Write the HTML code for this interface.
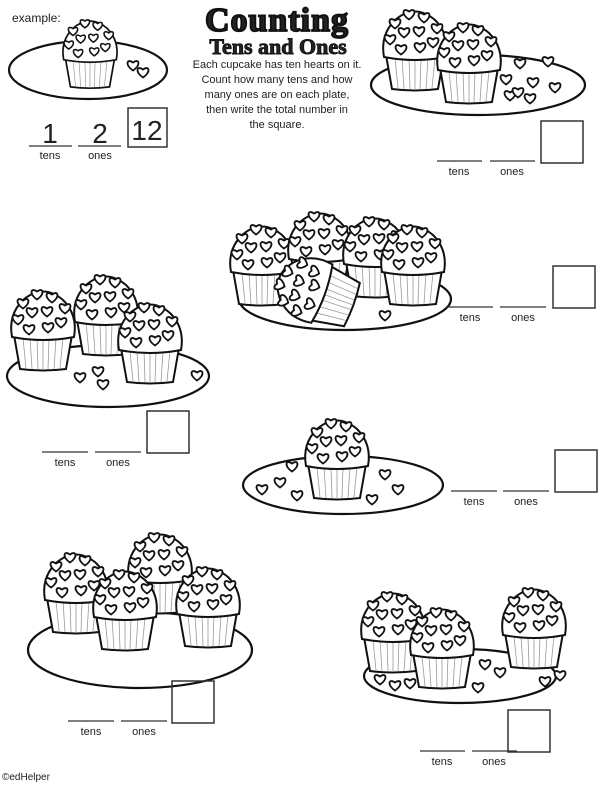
<!DOCTYPE html>
<html><head><meta charset="utf-8"><style>
html,body{margin:0;padding:0;background:#fff}
svg{display:block}
text{font-family:"Liberation Sans",sans-serif;fill:#222}
</style></head><body>
<svg width="600" height="787" viewBox="0 0 600 787" xmlns="http://www.w3.org/2000/svg">
<defs>
<path id="h" d="M0,4.5 C-8.5,-1 -6,-8 0,-3.5 C6,-8 8.5,-1 0,4.5Z" fill="#fff" stroke="#111" stroke-width="1.8"/>
<g id="c">
  <path d="M-29,0 L-23,34 Q0,37 23,34 L29,0 Z" fill="#fff" stroke="#111" stroke-width="2"/>
  <g stroke="#999" stroke-width="0.8">
    <line x1="-20" y1="3" x2="-17" y2="33"/><line x1="-13" y1="3" x2="-11" y2="34"/><line x1="-6" y1="3" x2="-5" y2="34"/><line x1="0" y1="3" x2="0" y2="35"/><line x1="6" y1="3" x2="5" y2="34"/><line x1="13" y1="3" x2="11" y2="34"/><line x1="20" y1="3" x2="17" y2="33"/>
  </g>
  <path d="M-31,2 Q-35,-20 -20,-35 Q0,-52 20,-35 Q35,-20 31,2 Q0,8 -31,2Z" fill="#fff" stroke="#111" stroke-width="2"/>
  <use href="#h" x="-20" y="-31"/><use href="#h" x="-6" y="-40"/><use href="#h" x="9" y="-37"/><use href="#h" x="22" y="-26"/>
  <use href="#h" x="-25" y="-15"/><use href="#h" x="-11" y="-22"/><use href="#h" x="4" y="-23"/><use href="#h" x="18" y="-12"/>
  <use href="#h" x="-14" y="-5"/><use href="#h" x="5" y="-7"/>
</g>
</defs>

<text x="12" y="22" font-size="12">example:</text>
<text x="277" y="31" font-size="34" font-weight="bold" text-anchor="middle" stroke="#111" stroke-width="1.8" style="font-family:'Liberation Serif',serif;letter-spacing:1px">Counting</text>
<text x="278" y="54" font-size="22" font-weight="bold" text-anchor="middle" stroke="#111" stroke-width="0.9" style="font-family:'Liberation Serif',serif">Tens and Ones</text>
<g font-size="11" text-anchor="middle">
<text x="277" y="68">Each cupcake has ten hearts on it.</text>
<text x="277" y="83">Count how many tens and how</text>
<text x="277" y="98">many ones are on each plate,</text>
<text x="277" y="113">then write the total number in</text>
<text x="277" y="128">the square.</text>
</g>

<g fill="#fff" stroke="#111" stroke-width="2.2">
<ellipse cx="88" cy="70" rx="79" ry="29"/>
<ellipse cx="478" cy="85" rx="107" ry="30"/>
<ellipse cx="345" cy="299" rx="106" ry="31"/>
<ellipse cx="108" cy="376" rx="101" ry="31"/>
<ellipse cx="343" cy="485" rx="100" ry="29"/>
<ellipse cx="140" cy="650" rx="112" ry="38"/>
<ellipse cx="460" cy="676" rx="96" ry="27"/>
</g>

<use href="#c" transform="translate(90,58) scale(0.85)"/>
<use href="#h" x="133" y="66"/><use href="#h" x="143" y="73"/>

<use href="#c" transform="translate(415,55)"/>
<use href="#c" transform="translate(469,68)"/>
<use href="#h" x="520" y="64"/><use href="#h" x="548" y="62"/><use href="#h" x="506" y="80"/><use href="#h" x="533" y="83"/><use href="#h" x="555" y="88"/><use href="#h" x="510" y="96"/><use href="#h" x="530" y="99"/><use href="#h" x="518" y="93"/>

<use href="#c" transform="translate(262,270)"/>
<use href="#c" transform="translate(320,257)"/>
<use href="#c" transform="translate(375,262)"/>
<use href="#c" transform="translate(413,270)"/>
<use href="#c" transform="translate(320,293) rotate(-70)"/>
<use href="#h" x="385" y="316"/>

<use href="#c" transform="translate(43,335)"/>
<use href="#c" transform="translate(106,320)"/>
<use href="#c" transform="translate(150,348)"/>
<use href="#h" x="80" y="378"/><use href="#h" x="98" y="372"/><use href="#h" x="103" y="385"/><use href="#h" x="197" y="376"/>

<use href="#c" transform="translate(337,464)"/>
<use href="#h" x="292" y="467"/><use href="#h" x="262" y="490"/><use href="#h" x="280" y="483"/><use href="#h" x="297" y="496"/><use href="#h" x="385" y="475"/><use href="#h" x="398" y="490"/><use href="#h" x="372" y="500"/>

<use href="#c" transform="translate(76,598)"/>
<use href="#c" transform="translate(160,578)"/>
<use href="#c" transform="translate(125,615)"/>
<use href="#c" transform="translate(208,612)"/>

<use href="#c" transform="translate(393,637)"/>
<use href="#c" transform="translate(442,653)"/>
<use href="#c" transform="translate(534,633)"/>
<use href="#h" x="380" y="680"/><use href="#h" x="395" y="686"/><use href="#h" x="410" y="684"/><use href="#h" x="485" y="665"/><use href="#h" x="500" y="673"/><use href="#h" x="478" y="688"/><use href="#h" x="545" y="682"/><use href="#h" x="560" y="676"/>

<g fill="none" stroke="#333" stroke-width="1.5">
<rect x="128" y="108" width="39" height="39"/>
<rect x="541" y="121" width="42" height="42"/>
<rect x="553" y="266" width="42" height="42"/>
<rect x="147" y="411" width="42" height="42"/>
<rect x="555" y="450" width="42" height="42"/>
<rect x="172" y="681" width="42" height="42"/>
<rect x="508" y="710" width="42" height="42"/>
</g>
<g stroke="#333" stroke-width="1.3">
<line x1="29" y1="146" x2="72" y2="146"/><line x1="78" y1="146" x2="121" y2="146"/>
<line x1="437" y1="161" x2="482" y2="161"/><line x1="490" y1="161" x2="535" y2="161"/>
<line x1="447" y1="307" x2="493" y2="307"/><line x1="500" y1="307" x2="546" y2="307"/>
<line x1="42" y1="452" x2="88" y2="452"/><line x1="95" y1="452" x2="141" y2="452"/>
<line x1="451" y1="491" x2="497" y2="491"/><line x1="503" y1="491" x2="549" y2="491"/>
<line x1="68" y1="721" x2="114" y2="721"/><line x1="121" y1="721" x2="167" y2="721"/>
<line x1="420" y1="751" x2="465" y2="751"/><line x1="472" y1="751" x2="517" y2="751"/>
</g>
<g font-size="11" text-anchor="middle">
<text x="50" y="159">tens</text><text x="100" y="159">ones</text>
<text x="459" y="175">tens</text><text x="512" y="175">ones</text>
<text x="470" y="321">tens</text><text x="523" y="321">ones</text>
<text x="65" y="466">tens</text><text x="118" y="466">ones</text>
<text x="474" y="505">tens</text><text x="526" y="505">ones</text>
<text x="91" y="735">tens</text><text x="144" y="735">ones</text>
<text x="442" y="765">tens</text><text x="494" y="765">ones</text>
</g>
<g font-size="28" text-anchor="middle">
<text x="50" y="143">1</text><text x="100" y="143">2</text><text x="147" y="140">12</text>
</g>
<text x="2" y="780" font-size="10">©edHelper</text>
</svg>
</body></html>
